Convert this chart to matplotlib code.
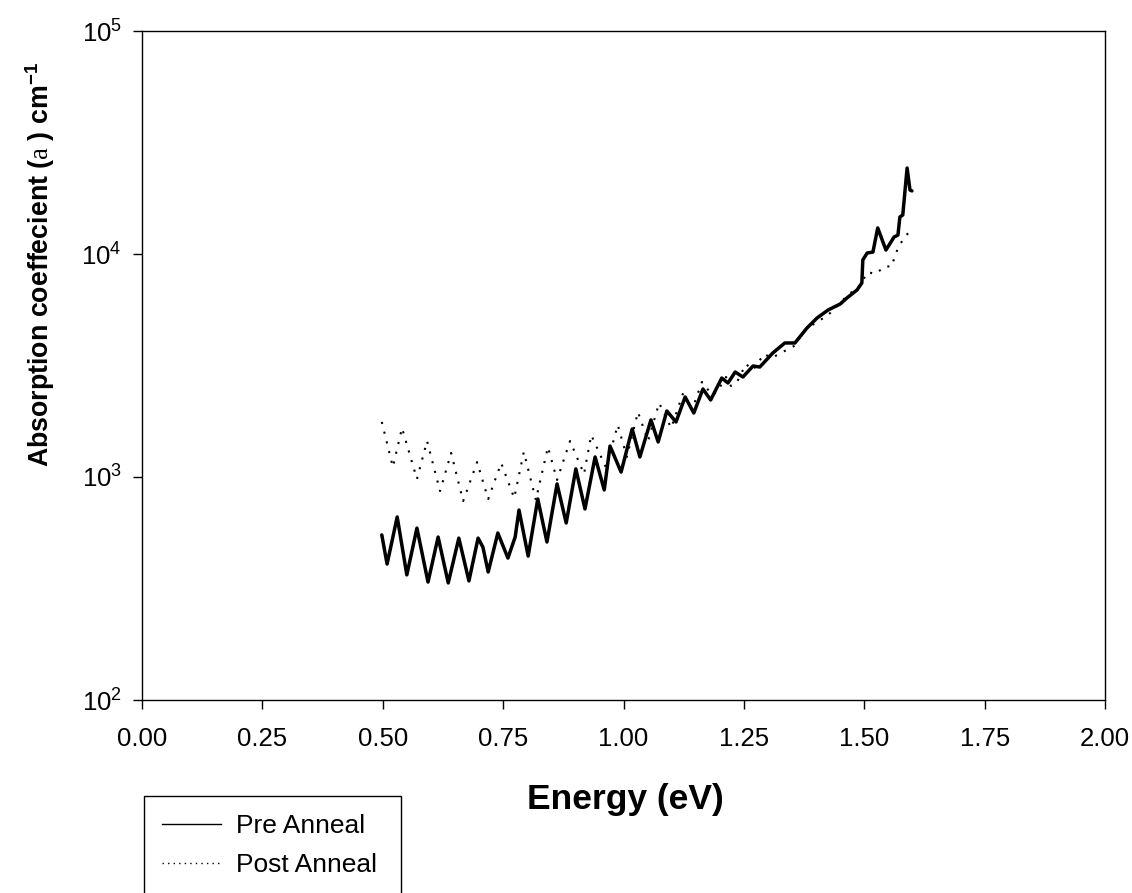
"""
Absorption coefficient vs photon energy, before and after anneal
"""
import matplotlib
matplotlib.use('Agg')
import matplotlib.pyplot as plt
from matplotlib.lines import Line2D
from matplotlib.ticker import FixedLocator, FormatStrFormatter, LogLocator, NullLocator

plt.rcParams['font.family'] = ['Liberation Sans', 'DejaVu Sans']
plt.rcParams['mathtext.fontset'] = 'custom'
plt.rcParams['mathtext.rm'] = 'Liberation Serif'
plt.rcParams['mathtext.bf'] = 'Liberation Sans:bold'

# Pre anneal (eV, cm^-1)
pre_energy = [0.498, 0.509, 0.530, 0.550, 0.571, 0.594, 0.615, 0.636, 0.658, 0.679,
              0.698, 0.708, 0.719, 0.739, 0.760, 0.775, 0.783, 0.802, 0.822, 0.841,
              0.862, 0.881, 0.901, 0.920, 0.941, 0.960, 0.972, 0.995, 1.018, 1.034,
              1.057, 1.072, 1.090, 1.109, 1.128, 1.146, 1.165, 1.181, 1.204, 1.217,
              1.232, 1.248, 1.269, 1.283, 1.310, 1.335, 1.356, 1.381, 1.402, 1.425,
              1.450, 1.464, 1.485, 1.495, 1.497, 1.506, 1.518, 1.528, 1.545, 1.562,
              1.570, 1.574, 1.580, 1.589, 1.595, 1.599]
pre_alpha = [550, 407, 662, 364, 590, 338, 538, 335, 532, 342,
             532, 485, 375, 561, 433, 538, 711, 442, 797, 511,
             931, 622, 1087, 719, 1230, 875, 1377, 1052, 1641, 1230,
             1803, 1436, 1977, 1765, 2285, 1937, 2482, 2215, 2778, 2640,
             2957, 2808, 3146, 3113, 3597, 3990, 3990, 4657, 5165, 5610,
             5966, 6350, 6897, 7413, 9400, 10100, 10200, 13090, 10420, 11920,
             12160, 14650, 14960, 24300, 19360, 19180]

# Post anneal
post_energy = [0.498, 0.521, 0.540, 0.571, 0.592, 0.619, 0.642, 0.667, 0.696, 0.719,
               0.746, 0.773, 0.793, 0.818, 0.843, 0.862, 0.889, 0.918, 0.933, 0.964,
               0.988, 1.007, 1.030, 1.051, 1.074, 1.099, 1.124, 1.142, 1.163, 1.184,
               1.194, 1.213, 1.223, 1.236, 1.254, 1.269, 1.292, 1.308, 1.323, 1.354,
               1.379, 1.425, 1.468, 1.485, 1.508, 1.522, 1.545, 1.556, 1.570, 1.585,
               1.599]
post_alpha = [1766, 1109, 1660, 979, 1450, 865, 1282, 780, 1167, 797,
              1155, 805, 1295, 789, 1363, 970, 1450, 1031, 1542, 1097,
              1711, 1230, 1956, 1450, 2147, 1660, 2382, 1997, 2668, 2333,
              2405, 2808, 2560, 2668, 3212, 3018, 3562, 3417, 3562, 3866,
              4612, 5324, 6617, 6966, 8303, 8131, 8833, 8746, 10640, 12040,
              12810]

x_ticks = [0.00, 0.25, 0.50, 0.75, 1.00, 1.25, 1.50, 1.75, 2.00]

W, H = 1132, 893
fig = plt.figure(figsize=(W / 100, H / 100), dpi=100)
ax = fig.add_axes([142 / W, 1 - 700 / H, (1105 - 142) / W, (700 - 31) / H])

ax.plot(pre_energy, pre_alpha, '-', color='black', lw=2.5,
        solid_joinstyle='round', solid_capstyle='round')
ax.plot(post_energy, post_alpha, color='black', lw=1.5,
        linestyle=(0, (1, 3.8)), dash_capstyle='butt')

ax.set_yscale('log')
ax.set_xlim(0, 2)
ax.set_ylim(1e2, 1e5)
ax.xaxis.set_major_locator(FixedLocator(x_ticks))
ax.xaxis.set_major_formatter(FormatStrFormatter('%.2f'))
ax.yaxis.set_major_locator(LogLocator(base=10, numticks=10))
ax.yaxis.set_minor_locator(NullLocator())

for sp in ax.spines.values():
    sp.set_linewidth(1.0)
ax.tick_params(axis='x', direction='out', length=6.5, width=1.0, pad=13, labelsize=18.5)
ax.tick_params(axis='y', direction='out', length=6.5, width=1.0, pad=8, labelsize=18.5)

fig.text(625 / W, 1 - 800 / H, 'Energy (eV)', ha='center', va='center',
         fontsize=25.5, fontweight='bold')
fig.text(40 / W, 1 - 264 / H,
         r'Absorption coeffecient ($\mathrm{a}$ ) cm$^{\mathdefault{-1}}$',
         rotation=90, ha='center', va='center', fontsize=19.3, fontweight='bold')

handles = [Line2D([], [], color='black', lw=1.0),
           Line2D([], [], color='black', lw=1.0, linestyle=(0, (1, 3)))]
leg = fig.legend(handles, ['Pre Anneal', 'Post Anneal'], loc='upper left',
                 bbox_to_anchor=(144 / W, 1 - 796 / H, 257 / W, 0), mode='expand',
                 borderaxespad=0, fontsize=19, handlelength=2.2, handletextpad=0.6,
                 borderpad=0.7, labelspacing=0.55, fancybox=False, framealpha=1)
leg.get_frame().set_edgecolor('black')
leg.get_frame().set_linewidth(1.0)

fig.savefig('out.png', dpi=100)
